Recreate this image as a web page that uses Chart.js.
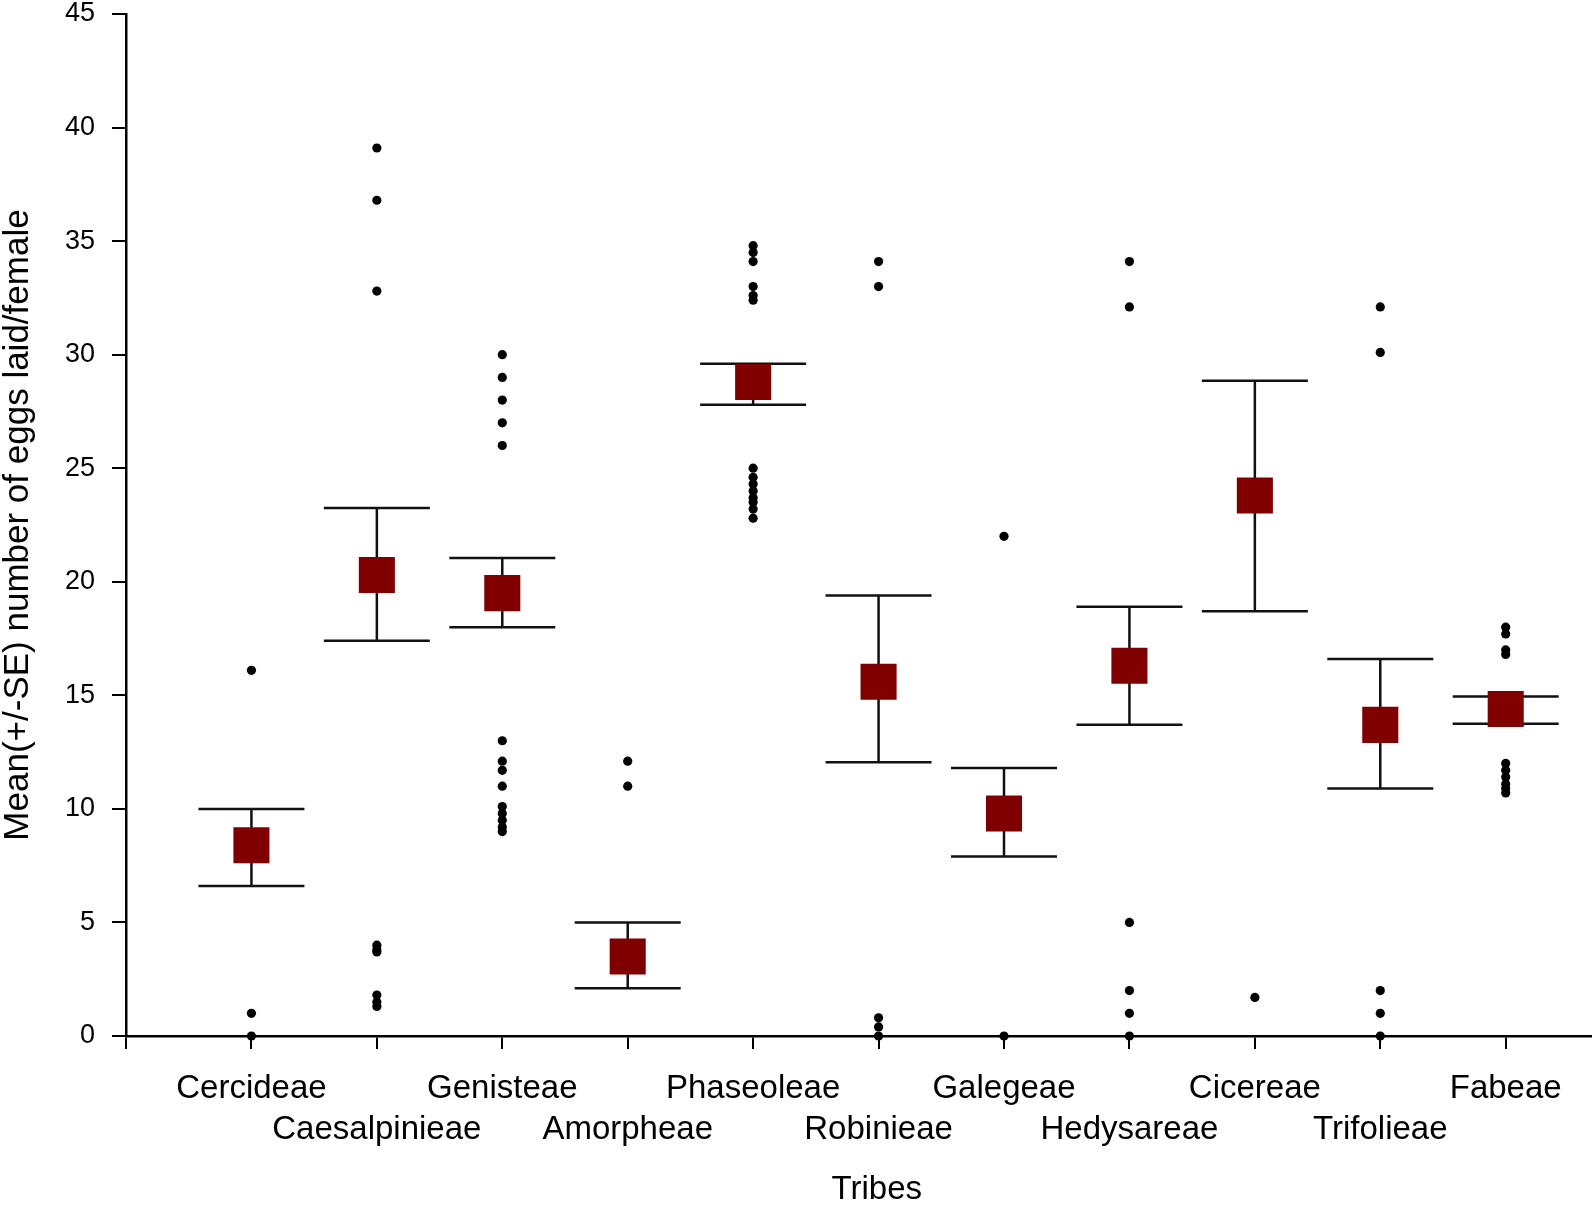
<!DOCTYPE html>
<html>
<head>
<meta charset="utf-8">
<script src="https://cdn.jsdelivr.net/npm/chart.js@4"></script>
<style>
  html, body { margin: 0; padding: 0; background: #fff; }
  #wrap { width: 1594px; height: 1206px; }
</style>
</head>
<body>
<div id="wrap"><canvas id="chart" width="1594" height="1206"></canvas></div>
<script>
// tribes on the x axis, in order
const tribes = ['Cercideae', 'Caesalpinieae', 'Genisteae', 'Amorpheae', 'Phaseoleae', 'Robinieae',
  'Galegeae', 'Hedysareae', 'Cicereae', 'Trifolieae', 'Fabeae'];

// mean eggs laid per female and the -SE / +SE ends
const means  = [8.4, 20.3, 19.5, 3.5, 28.8, 15.6, 9.8, 16.3, 23.8, 13.7, 14.4];
const seLow  = [6.6, 17.4, 18.0, 2.1, 27.8, 12.05, 7.9, 13.7, 18.7, 10.9, 13.75];
const seHigh = [10.0, 23.25, 21.05, 5.0, 29.6, 19.4, 11.8, 18.9, 28.85, 16.6, 14.95];

// individual outlying values per tribe
const outliers = [
  [16.1, 1.0, 0],
  [39.1, 36.8, 32.8, 4.0, 3.8, 3.7, 1.8, 1.5, 1.3],
  [30, 29, 28, 27, 26, 13, 12.1, 11.7, 11, 10.1, 9.8, 9.5, 9.2, 9.0],
  [12.1, 11],
  [34.8, 34.5, 34.1, 33.0, 32.6, 32.4, 25.0, 24.6, 24.3, 24.0, 23.7, 23.5, 23.2, 22.8],
  [34.1, 33.0, 0.8, 0.4, 0],
  [22.0, 0],
  [34.1, 32.1, 5.0, 2.0, 1.0, 0],
  [1.7],
  [32.1, 30.1, 2.0, 1.0, 0],
  [18.0, 17.7, 17.0, 16.8, 12.0, 11.7, 11.4, 11.1, 10.9, 10.7]
];

const yTicks = [0, 5, 10, 15, 20, 25, 30, 35, 40, 45];

const FONT = 'Arial, "Liberation Sans", sans-serif';

const meanPts = means.map((m, i) => ({ x: i + 1, y: m }));
const dotPts = [];
outliers.forEach((arr, i) => arr.forEach(v => dotPts.push({ x: i + 1, y: v })));

// draws the SE whiskers with caps under the mean squares
const errorBars = {
  id: 'errorBars',
  beforeDatasetsDraw(chart) {
    const { ctx, scales: { x, y } } = chart;
    ctx.save();
    ctx.strokeStyle = '#111';
    ctx.lineWidth = 2.5;
    const half = 53;
    seLow.forEach((lo, i) => {
      const px = x.getPixelForValue(i + 1);
      const yLo = y.getPixelForValue(lo);
      const yHi = y.getPixelForValue(seHigh[i]);
      ctx.beginPath();
      ctx.moveTo(px, yLo); ctx.lineTo(px, yHi);
      ctx.moveTo(px - half, yLo); ctx.lineTo(px + half, yLo);
      ctx.moveTo(px - half, yHi); ctx.lineTo(px + half, yHi);
      ctx.stroke();
    });
    ctx.restore();
  }
};

new Chart(document.getElementById('chart'), {
  type: 'scatter',
  data: {
    datasets: [
      {
        label: 'outliers',
        data: dotPts,
        pointStyle: 'circle',
        pointRadius: 4.6,
        backgroundColor: '#000',
        borderWidth: 0,
        clip: false,
        order: 2
      },
      {
        label: 'mean',
        data: meanPts,
        pointStyle: 'rect',
        pointRadius: 25.5,
        backgroundColor: '#800000',
        borderWidth: 0,
        clip: false,
        order: 1
      }
    ]
  },
  plugins: [errorBars],
  options: {
    responsive: false,
    animation: false,
    layout: { autoPadding: false, padding: { top: 14, right: 3, left: 0, bottom: 0 } },
    plugins: { legend: { display: false }, tooltip: { enabled: false } },
    scales: {
      x: {
        type: 'linear',
        min: 0,
        max: 11.68,
        afterBuildTicks(scale) {
          scale.ticks = [0, 1, 2, 3, 4, 5, 6, 7, 8, 9, 10, 11].map(v => ({ value: v }));
        },
        afterFit(scale) {
          scale.height = 170;
          scale.paddingLeft = 0;
          scale.paddingRight = 0;
        },
        grid: { drawOnChartArea: false, drawTicks: true, tickLength: 13, color: '#000', lineWidth: 2 },
        border: { display: true, color: '#000', width: 2.5 },
        ticks: {
          autoSkip: false,
          maxRotation: 0,
          minRotation: 0,
          padding: 19,
          color: '#000',
          font: { family: FONT, size: 33, lineHeight: 1.25 },
          callback(v) {
            if (v < 1 || v > tribes.length) return '';
            const name = tribes[v - 1];
            return v % 2 === 1 ? [name, ''] : ['', name];
          }
        },
        title: {
          display: true,
          text: '    Tribes',
          color: '#000',
          font: { family: FONT, size: 33, lineHeight: 1 },
          padding: { top: 0, bottom: 0 }
        }
      },
      y: {
        min: 0,
        max: 45,
        afterBuildTicks(scale) {
          scale.ticks = yTicks.map(v => ({ value: v }));
        },
        afterFit(scale) {
          scale.width = 126;
          scale.paddingTop = 0;
          scale.paddingBottom = 0;
        },
        grid: { drawOnChartArea: false, drawTicks: true, tickLength: 14, color: '#000', lineWidth: 2 },
        border: { display: true, color: '#000', width: 2.5 },
        ticks: {
          padding: 17,
          color: '#000',
          font: { family: FONT, size: 27 }
        },
        title: {
          display: true,
          text: 'Mean(+/-SE) number of eggs laid/female',
          color: '#000',
          font: { family: FONT, size: 35, lineHeight: 1.05 },
          padding: { top: 0, bottom: 0 }
        }
      }
    }
  }
});
</script>
</body>
</html>
